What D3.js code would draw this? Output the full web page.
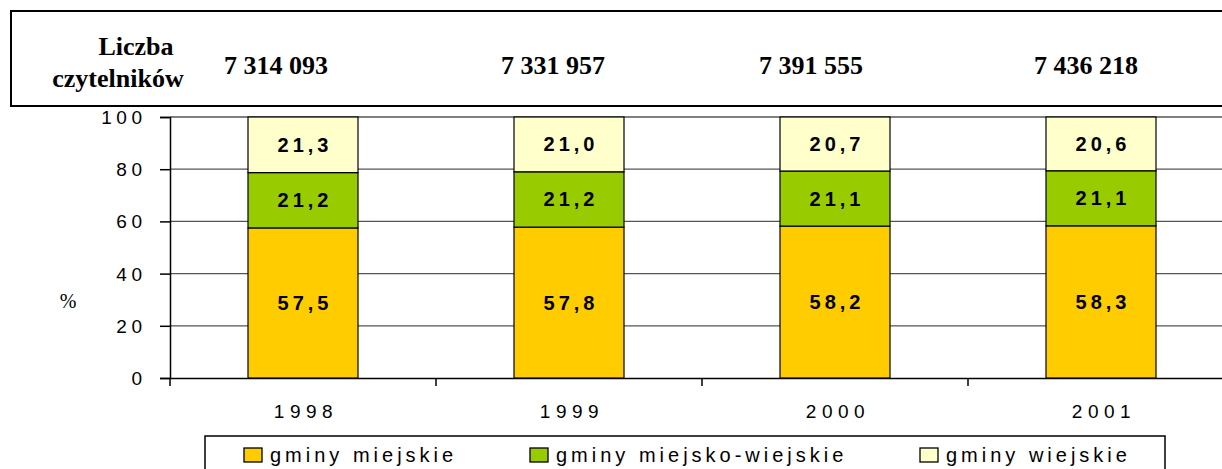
<!DOCTYPE html>
<html>
<head>
<meta charset="utf-8">
<script src="https://cdn.jsdelivr.net/npm/d3@7"></script>
<style>
  body { margin: 0; background: #fff; }
  svg text { fill: #000; }
</style>
</head>
<body>
<svg id="chart" width="1222" height="469"></svg>
<script>
var years = ['1998', '1999', '2000', '2001'];
var readers = ['7 314 093', '7 331 957', '7 391 555', '7 436 218'];
var miejskie = [57.5, 57.8, 58.2, 58.3];
var miejskoWiejskie = [21.2, 21.2, 21.1, 21.1];
var wiejskie = [21.3, 21.0, 20.7, 20.6];
var seriesNames = ['gminy miejskie', 'gminy miejsko-wiejskie', 'gminy wiejskie'];
var seriesColors = ['#ffcc00', '#99cc00', '#ffffcc'];
var yTicks = [0, 20, 40, 60, 80, 100];

var svg = d3.select('#chart');
var plotLeft = 170, plotTop = 117, plotBottom = 378, plotW = 1064;

var x = d3.scaleBand().domain(years).range([plotLeft, plotLeft + plotW]).paddingInner(0).paddingOuter(0);
var y = d3.scaleLinear().domain([0, 100]).range([plotBottom, plotTop]);
var barW = 110;
var serif = '"Liberation Serif", "Times New Roman", serif';
var sans = '"Liberation Sans", Arial, sans-serif';

// top box with readers count
svg.append('path')
  .attr('d', 'M1240,11 H11 V106 H1240')
  .attr('fill', 'none').attr('stroke', '#000').attr('stroke-width', 2);
svg.append('text').attr('x', 136).attr('y', 55)
  .attr('text-anchor', 'middle')
  .style('font', 'bold 26px ' + serif)
  .text('Liczba');
svg.append('text').attr('x', 118).attr('y', 87)
  .attr('text-anchor', 'middle')
  .style('font', 'bold 26px ' + serif)
  .text('czytelników');
// the header cells sit a little left of the bar centres
var readerShift = [-27, -16, -24, -15];
svg.selectAll('text.readers').data(readers).enter().append('text')
  .attr('class', 'readers')
  .attr('x', (d, i) => x(years[i]) + x.bandwidth() / 2 + readerShift[i])
  .attr('y', 74)
  .attr('text-anchor', 'middle')
  .style('font', 'bold 26px ' + serif)
  .text(d => d);

// gridlines
svg.append('g').selectAll('line').data(yTicks.filter(d => d > 0)).enter().append('line')
  .attr('x1', plotLeft).attr('x2', plotLeft + plotW)
  .attr('y1', d => y(d)).attr('y2', d => y(d))
  .attr('stroke', '#555').attr('stroke-width', 1.3);

// y axis
var yAxis = d3.axisLeft(y).tickValues(yTicks).tickSize(10).tickFormat('');
svg.append('g').attr('transform', 'translate(' + plotLeft + ',0)').call(yAxis)
  .call(g => g.select('.domain').attr('stroke', '#000').attr('stroke-width', 1.5))
  .call(g => g.selectAll('.tick line').attr('stroke', '#000').attr('stroke-width', 1.5));
svg.append('g').selectAll('text').data(yTicks).enter().append('text')
  .attr('x', 146.5).attr('y', d => y(d) + 7)
  .attr('text-anchor', 'end')
  .style('font', '19px ' + sans)
  .style('letter-spacing', '4.5px')
  .text(d => d);
svg.append('text').attr('x', 68).attr('y', 308)
  .attr('text-anchor', 'middle')
  .style('font', '20px ' + serif)
  .text('%');

// x axis
var xAxis = d3.axisBottom(x).tickSize(0).tickFormat('');
svg.append('g').attr('transform', 'translate(0,' + plotBottom + ')').call(xAxis)
  .call(g => g.select('.domain').attr('stroke', '#000').attr('stroke-width', 1.5));
svg.append('g').selectAll('line').data(years).enter().append('line')
  .attr('x1', d => x(d)).attr('x2', d => x(d))
  .attr('y1', plotBottom).attr('y2', plotBottom + 8)
  .attr('stroke', '#000').attr('stroke-width', 1.5);
svg.append('g').selectAll('text').data(years).enter().append('text')
  .attr('x', d => x(d) + x.bandwidth() / 2 + 3)
  .attr('y', 418)
  .attr('text-anchor', 'middle')
  .style('font', '19px ' + sans)
  .style('letter-spacing', '5.5px')
  .text(d => d);

// stacked bars
var rows = years.map((yr, i) => ({ year: yr, s0: miejskie[i], s1: miejskoWiejskie[i], s2: wiejskie[i] }));
var stack = d3.stack().keys(['s0', 's1', 's2'])(rows);
var layers = svg.append('g').selectAll('g').data(stack).enter().append('g')
  .attr('fill', (d, i) => seriesColors[i]);
layers.selectAll('rect').data(d => d).enter().append('rect')
  .attr('x', d => x(d.data.year) + (x.bandwidth() - barW) / 2)
  .attr('width', barW)
  .attr('y', d => y(Math.min(d[1], 100)))
  .attr('height', d => y(d[0]) - y(Math.min(d[1], 100)))
  .attr('stroke', '#000').attr('stroke-width', 1.2);
layers.selectAll('text').data(d => d).enter().append('text')
  .attr('x', d => x(d.data.year) + x.bandwidth() / 2 + 2)
  .attr('y', d => (y(d[0]) + y(Math.min(d[1], 100))) / 2 + 7)
  .attr('text-anchor', 'middle')
  .style('font', 'bold 20px ' + sans)
  .style('letter-spacing', '4px')
  .text(d => String((d[1] - d[0]).toFixed(1)).replace('.', ','));

// legend
var legend = svg.append('g');
legend.append('rect').attr('x', 205).attr('y', 436).attr('width', 960).attr('height', 50)
  .attr('fill', '#fff').attr('stroke', '#000').attr('stroke-width', 1.5);
var legX = [244, 530, 920];
var items = legend.selectAll('g.item').data(seriesNames).enter().append('g')
  .attr('transform', (d, i) => 'translate(' + legX[i] + ',448)');
items.append('rect').attr('width', 18).attr('height', 14)
  .attr('fill', (d, i) => seriesColors[i]).attr('stroke', '#000').attr('stroke-width', 1.3);
items.append('text').attr('x', 26).attr('y', 14)
  .style('font', '20px ' + sans)
  .style('letter-spacing', '4px')
  .text(d => d);
</script>
</body>
</html>
